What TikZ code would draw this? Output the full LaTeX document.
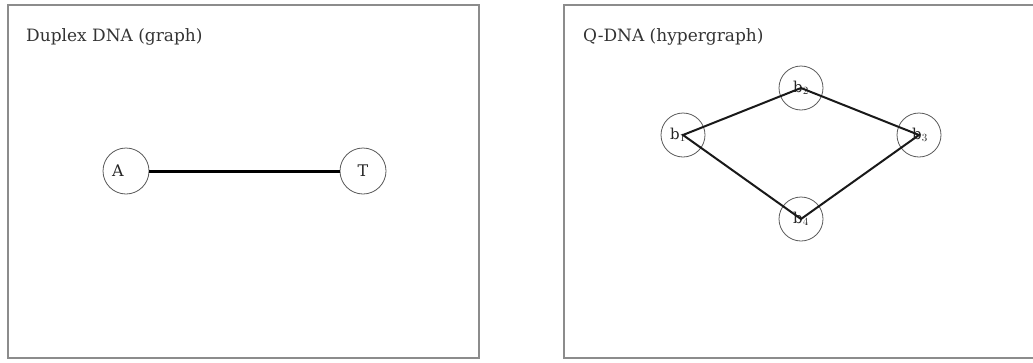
\documentclass[tikz,border=0pt]{standalone}
\usepackage{fontspec}
\setmainfont{DejaVu Serif}
\begin{document}
\begin{tikzpicture}[x=1pt,y=-1pt,
  panel/.style={draw=black!45,line width=1.8pt},
  title/.style={anchor=base west,inner sep=0pt,text=black!80,font=\fontsize{17}{20}\selectfont},
  vtx/.style={circle,draw=black!65,line width=0.8pt,minimum size=46pt,inner sep=0pt,font=\fontsize{16}{18}\selectfont,text=black!85},
  qvtx/.style={circle,draw=black!65,line width=0.8pt,minimum size=44pt,inner sep=0pt,font=\fontsize{15}{17}\selectfont,text=black!85},
  bond/.style={draw=black,line width=3pt},
  hedge/.style={draw=black!90,line width=2pt}]
\useasboundingbox (0,0) rectangle (1033,362);
\draw[panel] (8,5) rectangle (479,358);
\draw[panel] (564,5) rectangle (1040,358);
\node[title] (t1) at (26,41) {Duplex DNA (graph)};
\node[title] (t2) at (583,41) {Q-DNA (hypergraph)};
\node[vtx] (A) at (126,171) {A\kern16pt\relax};
\node[vtx] (T) at (363,171) {T};
\draw[bond] (A) -- (T);
\node[qvtx] (b1) at (683,135) {b$_1$\kern10pt\relax};
\node[qvtx] (b2) at (801,88) {b$_2$};
\node[qvtx] (b3) at (919,135) {\kern2pt b$_3$};
\node[qvtx] (b4) at (801,219) {b$_4$};
\draw[hedge,line join=miter] (b1.center) -- (b2.center) -- (b3.center) -- (b4.center) -- cycle;
\end{tikzpicture}
\end{document}
